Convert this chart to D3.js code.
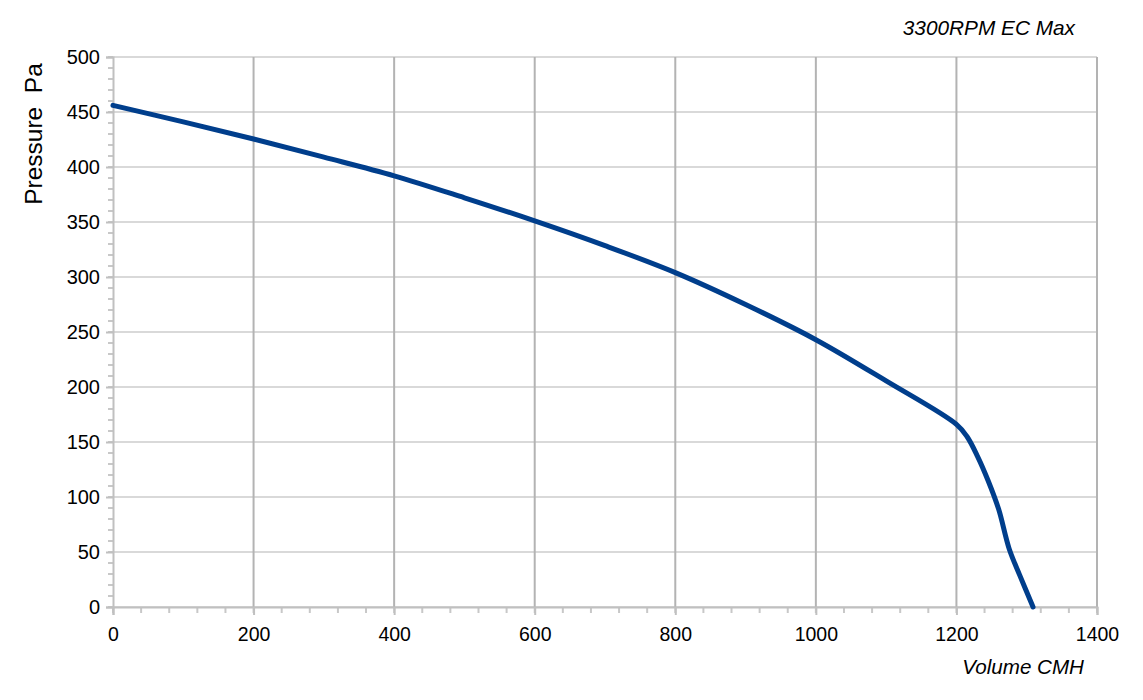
<!DOCTYPE html>
<html><head><meta charset="utf-8">
<script src="https://cdn.jsdelivr.net/npm/d3@7"></script>
<style>body{margin:0;background:#fff;} text{font-family:"Liberation Sans",Arial,sans-serif;}</style>
</head><body>
<svg id="c" width="1143" height="700"></svg>
<script>
const volume = [0,100,200,300,400,500,600,700,800,900,1000,1100,1200,1215,1230,1245,1260,1275,1290,1309];
const pressure = [456,441,425.5,409,392,372,351,328.5,304,275,243,205.5,166,155,137,115,89,53,29,0];
const xTicks = [0,200,400,600,800,1000,1200,1400];
const yTicks = [0,50,100,150,200,250,300,350,400,450,500];
const title = "3300RPM EC Max";
const xTitle = "Volume CMH";
const yTitle = "Pressure\u00a0\u00a0Pa";

const svg = d3.select("#c");
const m = {l:113, r:1097, t:57, b:607};
const x = d3.scaleLinear().domain([0,1400]).range([m.l,m.r]);
const y = d3.scaleLinear().domain([0,500]).range([m.b,m.t]);

// horizontal grid
svg.append("g").selectAll("line").data(yTicks).join("line")
  .attr("x1",m.l).attr("x2",m.r).attr("y1",d=>y(d)).attr("y2",d=>y(d))
  .attr("stroke","#d9d9d9").attr("stroke-width",2);
// vertical grid
svg.append("g").selectAll("line").data(xTicks.slice(1)).join("line")
  .attr("x1",d=>x(d)).attr("x2",d=>x(d)).attr("y1",m.t).attr("y2",m.b)
  .attr("stroke","#b3b3b3").attr("stroke-width",2);

// minor ticks
const xMinor = d3.range(0,1401,40);
const yMinor = d3.range(0,501,10);
svg.append("g").selectAll("line").data(xMinor).join("line")
  .attr("x1",d=>x(d)).attr("x2",d=>x(d)).attr("y1",m.b).attr("y2",m.b+6)
  .attr("stroke","#c8c8c8").attr("stroke-width",2);
svg.append("g").selectAll("line").data(yMinor).join("line")
  .attr("x1",m.l-5).attr("x2",m.l).attr("y1",d=>y(d)).attr("y2",d=>y(d))
  .attr("stroke","#c8c8c8").attr("stroke-width",2);

// axes
const xAxis = d3.axisBottom(x).tickValues(xTicks).tickSize(8).tickPadding(12).tickFormat(d3.format("d"));
const gx = svg.append("g").attr("transform",`translate(0,${m.b})`).call(xAxis);
gx.select(".domain").attr("stroke","#c0c0c0").attr("stroke-width",2);
gx.selectAll(".tick line").attr("stroke","#c0c0c0").attr("stroke-width",2);
gx.selectAll("text").attr("font-size",19.5).attr("fill","#000").attr("font-family","Liberation Sans, Arial, sans-serif");

const yAxis = d3.axisLeft(y).tickValues(yTicks).tickSize(7).tickPadding(6).tickFormat(d3.format("d"));
const gy = svg.append("g").attr("transform",`translate(${m.l},0)`).call(yAxis);
gy.select(".domain").attr("stroke","#c0c0c0").attr("stroke-width",2);
gy.selectAll(".tick line").attr("stroke","#c0c0c0").attr("stroke-width",2);
gy.selectAll("text").attr("font-size",20).attr("fill","#000").attr("font-family","Liberation Sans, Arial, sans-serif");

// curve
const line = d3.line().x((d,i)=>x(volume[i])).y(d=>y(d)).curve(d3.curveCatmullRom.alpha(0.5));
svg.append("path").datum(pressure).attr("d",line)
  .attr("fill","none").attr("stroke","#003e8c").attr("stroke-width",5).attr("stroke-linecap","round").attr("stroke-linejoin","round");

// titles
svg.append("text").attr("x",1075).attr("y",35).attr("text-anchor","end")
  .attr("font-size",20.8).attr("font-style","italic").text(title);
svg.append("text").attr("x",1084).attr("y",674).attr("text-anchor","end")
  .attr("font-size",20.6).attr("font-style","italic").text(xTitle);
svg.append("text").attr("transform","translate(41.5,134) rotate(-90)").attr("text-anchor","middle")
  .attr("font-size",24.5).text(yTitle);
</script>
</body></html>
